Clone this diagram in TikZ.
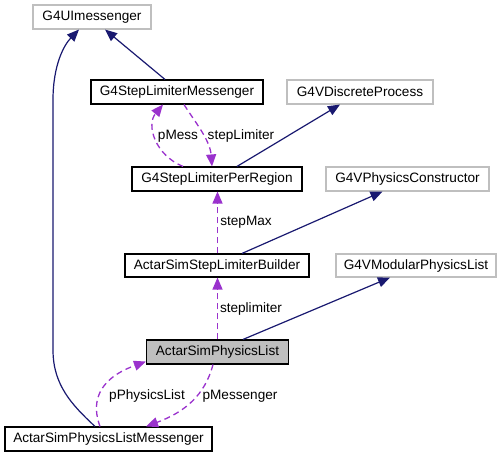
\documentclass[tikz,border=0pt]{standalone}
\usepackage{fontspec}
\setmainfont{Liberation Sans}
\usetikzlibrary{arrows.meta,calc}
\definecolor{navy}{HTML}{191970}
\definecolor{purp}{HTML}{9A32CD}
\definecolor{graybd}{HTML}{BFBFBF}
\begin{document}
\begin{tikzpicture}[x=1pt,y=-1pt,
  every node/.style={font=\fontsize{13.6}{15}\selectfont},
  cls/.style={draw=black,line width=1.1pt,inner sep=0pt,minimum height=24pt,fill=white},
  ext/.style={draw=graybd,line width=1.1pt,inner sep=0pt,minimum height=24pt,fill=white},
  cur/.style={draw=black,line width=1.1pt,inner sep=0pt,minimum height=24pt,fill=graybd},
  inh/.style={draw=navy,line width=1.2pt,-{Triangle[length=12pt,width=10pt]}},
  use/.style={draw=purp,line width=1.3pt,dash pattern=on 6pt off 4pt,-{Triangle[length=12pt,width=10pt]}},
  lbl/.style={inner sep=0pt,anchor=center}]
\useasboundingbox (0,0) rectangle (501,457);
\node[ext,minimum width=118pt] (uim) at (92,17) {G4UImessenger};
\node[cls,minimum width=172pt] (slm) at (177,92) {G4StepLimiterMessenger};
\node[ext,minimum width=146pt] (vdp) at (360,92) {G4VDiscreteProcess};
\node[cls,minimum width=170pt] (slpr) at (217,179) {G4StepLimiterPerRegion};
\node[ext,minimum width=163pt] (vpc) at (407.5,179) {G4VPhysicsConstructor};
\node[cls,minimum width=184pt,minimum height=23pt] (sslb) at (217,265.5) {ActarSimStepLimiterBuilder};
\node[ext,minimum width=160pt,minimum height=23pt] (vmpl) at (416,265.5) {G4VModularPhysicsList};
\node[cur,minimum width=142pt] (pl) at (217.5,352) {ActarSimPhysicsList};
\node[cls,minimum width=207pt] (plm) at (108.5,439) {ActarSimPhysicsListMessenger};
% inheritance
\draw[inh] ($(slm.north)+(-12,0)$) -- ($(uim.south)+(13,0)$);
\draw[inh] ($(plm.north)+(-13.5,0)$) .. controls (72,405) and (53,385) .. (53,350) -- (53,100) .. controls (53,65) and (64,45) .. ($(uim.south)+(-13,0)$);
\draw[inh] ($(slpr.north)+(20,0)$) -- ($(vdp.south)+(-20,0)$);
\draw[inh] ($(sslb.north)+(25,0)$) -- ($(vpc.south)+(-25,0)$);
\draw[inh] ($(pl.north)+(25.5,0)$) -- ($(vmpl.south)+(-26,0)$);
% usage
\draw[use] ($(slpr.north)+(-34,0)$) .. controls (155,155) and (146,125) .. ($(slm.south)+(-14,0)$);
\draw[use] ($(slm.south)+(7,0)$) .. controls (195,122) and (210,140) .. ($(slpr.north)+(-5,0)$);
\draw[use] ($(sslb.north)+(0.5,0)$) -- ($(slpr.south)+(0.5,0)$);
\draw[use] (pl.north) -- (pl.north |- sslb.south);
\draw[use] ($(plm.north)+(-8.5,0)$) .. controls (92,405) and (95,380) .. ($(pl.south west)+(0,-3)$);
\draw[use] ($(pl.south)+(-4.5,0)$) .. controls (205,395) and (185,412) .. ($(plm.north)+(37.5,0)$);
% labels
\node[lbl] (lpmess) at (178,136) {pMess};
\node[lbl] (lsteplim) at (241,136) {stepLimiter};
\node[lbl] (lstepmax) at (246,222) {stepMax};
\node[lbl] (lsteplimiter) at (251,309) {steplimiter};
\node[lbl] (lppl) at (147,396) {pPhysicsList};
\node[lbl] (lpmsgr) at (240,396) {pMessenger};
\end{tikzpicture}
\end{document}
